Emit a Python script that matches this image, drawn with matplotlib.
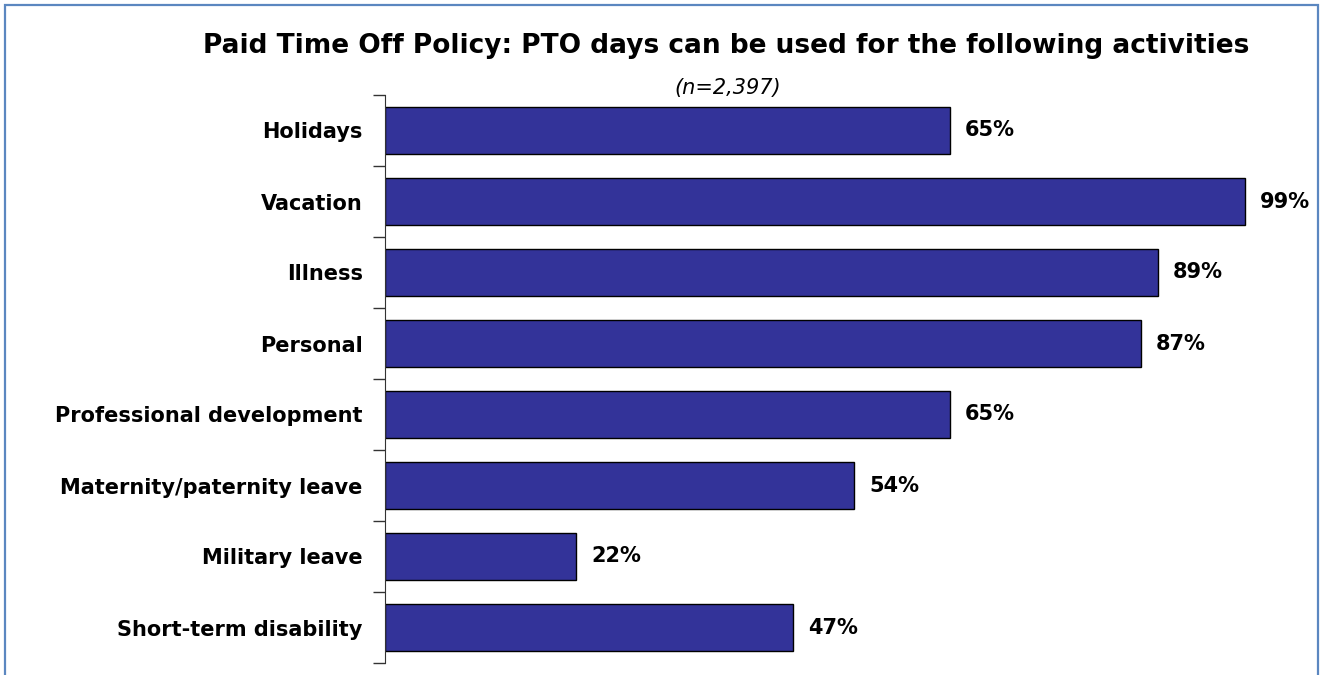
import matplotlib.pyplot as plt
import numpy as np
from matplotlib.patches import Rectangle

categories = ['Holidays', 'Vacation', 'Illness', 'Personal',
              'Professional development', 'Maternity/paternity leave',
              'Military leave', 'Short-term disability']
values = [65, 99, 89, 87, 65, 54, 22, 47]

bar_color = '#333399'

fig = plt.figure(figsize=(13.2, 6.75), dpi=100, facecolor='white')
ax = fig.add_axes([385 / 1320, 1 - 663 / 675, 869 / 1320, (663 - 95) / 675])

y = np.arange(len(categories))
ax.barh(y, values, height=0.66, color=bar_color, edgecolor='black', linewidth=1)

ax.set_xlim(0, 100)
ax.set_ylim(len(categories) - 0.5, -0.5)

# value labels to the right of each bar
for yi, v in zip(y, values):
    ax.text(v + 1.7, yi, f'{v}%', va='center', ha='left', fontsize=15,
            fontweight='bold', clip_on=False)

# spines and ticks
for s in ['top', 'right', 'bottom']:
    ax.spines[s].set_visible(False)
ax.spines['left'].set_color('#333333')
ax.set_xticks([])
ax.set_yticks(y)
ax.set_yticklabels(categories, fontsize=15, fontweight='bold')
ax.tick_params(axis='y', which='major', length=0, pad=16)
ax.set_yticks(np.arange(len(categories) + 1) - 0.5, minor=True)
ax.tick_params(axis='y', which='minor', length=9, color='#333333', width=1)

fig.text(0.55, 0.932, 'Paid Time Off Policy: PTO days can be used for the following activities',
         ha='center', va='center', fontsize=19, fontweight='bold')
fig.text(0.551, 0.869, '(n=2,397)', ha='center', va='center', fontsize=15, style='italic')

# outer frame
fig.patches.append(Rectangle((5 / 1320, -0.05), 1313 / 1320, 1.05 - 5 / 675,
                             transform=fig.transFigure, fill=False,
                             edgecolor='#5B87C0', linewidth=1.6))

fig.savefig('out.png', dpi=100)
